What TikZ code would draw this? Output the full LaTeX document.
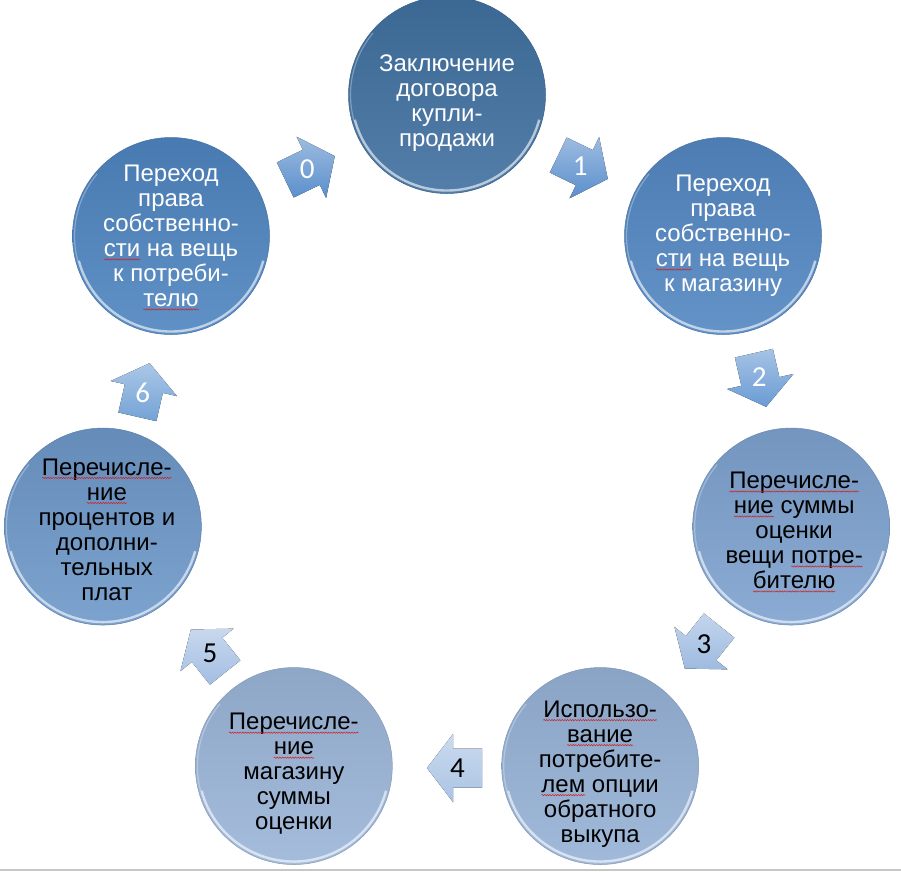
\documentclass[tikz,border=0pt]{standalone}
\usepackage{fontspec}
\setmainfont{Liberation Sans}
\newfontfamily\numfont{Carlito}
\usetikzlibrary{calc,decorations.pathmorphing}

\definecolor{cA}{HTML}{4070A0}
\definecolor{cB}{HTML}{5387C2}
\definecolor{cC}{HTML}{7EA2CF}
\definecolor{cD}{HTML}{96B2D6}
\definecolor{cE}{HTML}{9BB5D8}
\definecolor{cF}{HTML}{6E98C9}
\definecolor{cG}{HTML}{4E85C0}

\definecolor{aA}{HTML}{5B8FCC}
\definecolor{aB}{HTML}{5B8FCC}
\definecolor{aC}{HTML}{6A9BD4}
\definecolor{aD}{HTML}{9DBAE0}
\definecolor{aE}{HTML}{A9C3E4}
\definecolor{aF}{HTML}{A3BEE2}
\definecolor{aG}{HTML}{73A2D6}

\definecolor{wavered}{HTML}{D02020}

% red wavy (spell-check) underline
\newcommand\sq[1]{\tikz[baseline=(sqw.base)]{\node[rectangle,draw=none,fill=none,inner sep=0pt,outer sep=0pt](sqw){#1};\draw[overlay,wavered,line width=0.5pt,decorate,decoration={snake,amplitude=0.65pt,segment length=2.6pt}]([yshift=-2.8pt]sqw.base west)--([yshift=-2.8pt]sqw.base east);}}

% bevel highlight on a circle
\newcommand\bevel[1]{%
  \draw[white,opacity=.6,line width=2.4pt] (#1.center) ++(195:95.5pt) arc[start angle=195,end angle=345,radius=95.5pt];
  \draw[white,opacity=.3,line width=1.2pt] (#1.center) ++(140:96.5pt) arc[start angle=140,end angle=195,radius=96.5pt];
}

% block arrow: name, x, y, direction, colour, text colour, number
\newcommand\cyclearrow[7]{%
  \begin{scope}[shift={(#2,#3)},rotate=#4]
    \fill[top color=#5!60!white,bottom color=#5] (-27.5,-19.5)--(1.5,-19.5)--(1.5,-34)--(27.5,0)--(1.5,34)--(1.5,19.5)--(-27.5,19.5)--cycle;
  \end{scope}
  \node[num,text=#6] (#1) at ($(#2,#3)+(#4+180:3pt)$) {#7};
}

\begin{document}
\begin{tikzpicture}[x=1pt,y=1pt,
  txt/.style={align=center,font=\fontsize{24}{25}\selectfont,inner sep=0pt},
  num/.style={font=\numfont\fontsize{29}{29}\selectfont,inner sep=0pt},
  circ/.style={circle,minimum size=197pt,inner sep=0pt,top color=#1!92!black,bottom color=#1!90!white,draw=#1!85!black,line width=0.5pt}]
\useasboundingbox (0,0) rectangle (901,-871);
\fill[white] (0,0) rectangle (901,-871);
\coordinate (O) at (447,-448);

% circles
\node[circ=cA] (c0) at ($(O)+(90:353pt)$) {};
\node[circ=cB] (c1) at (723,-236) {};
\node[circ=cC] (c2) at ($(O)+(-12.857:353pt)$) {};
\node[circ=cD] (c3) at ($(O)+(-64.286:353pt)$) {};
\node[circ=cE] (c4) at ($(O)+(-115.714:353pt)$) {};
\node[circ=cF] (c5) at ($(O)+(-167.143:353pt)$) {};
\node[circ=cG] (c6) at (171,-236) {};
\bevel{c0}\bevel{c1}\bevel{c2}\bevel{c3}\bevel{c4}\bevel{c5}\bevel{c6}

% texts
\node[txt,text=white] (t0) at ([yshift=-8pt]c0.center) {Заключение\\договора\\купли-\\продажи};
\node[txt,text=white] (t1) at (c1.center) {Переход\\права\\собственно-\\\sq{сти} на вещь\\к магазину};
\node[txt,text=black] (t2) at ([yshift=-4pt,xshift=3pt]c2.center) {\sq{Перечисле-}\\\sq{ние} суммы\\оценки\\вещи \sq{потре-}\\\sq{бителю}};
\node[txt,text=black] (t3) at ([yshift=-8pt]c3.center) {\sq{Использо-}\\\sq{вание}\\потребите-\\\sq{лем} опции\\обратного\\выкупа};
\node[txt,text=black] (t4) at ([yshift=-8pt]c4.center) {\sq{Перечисле-}\\\sq{ние}\\магазину\\суммы\\оценки};
\node[txt,text=black] (t5) at ([yshift=-3pt,xshift=4pt]c5.center) {\sq{Перечисле-}\\\sq{ние}\\процентов и\\дополни-\\тельных\\плат};
\node[txt,text=white] (t6) at (c6.center) {Переход\\права\\собственно-\\\sq{сти} на вещь\\к потреби-\\\sq{телю}};

% arrows
\cyclearrow{n0}{310}{-168}{25.714}{aA}{white}{0}
\cyclearrow{n1}{583}{-167}{-25.714}{aB}{white}{1}
\cyclearrow{n2}{760}{-380}{-77.143}{aC}{white}{2}
\cyclearrow{n3}{702}{-647}{-128.571}{aD}{black}{3}
\cyclearrow{n4}{454.5}{-768}{180}{aE}{black}{4}
\cyclearrow{n5}{208}{-651}{128.571}{aF}{black}{5}
\cyclearrow{n6}{143.5}{-390}{77.143}{aG}{white}{6}

% page edge
\draw[line width=1.5pt,black!22] (0,-869.8) -- (901,-869.8);
\end{tikzpicture}
\end{document}
